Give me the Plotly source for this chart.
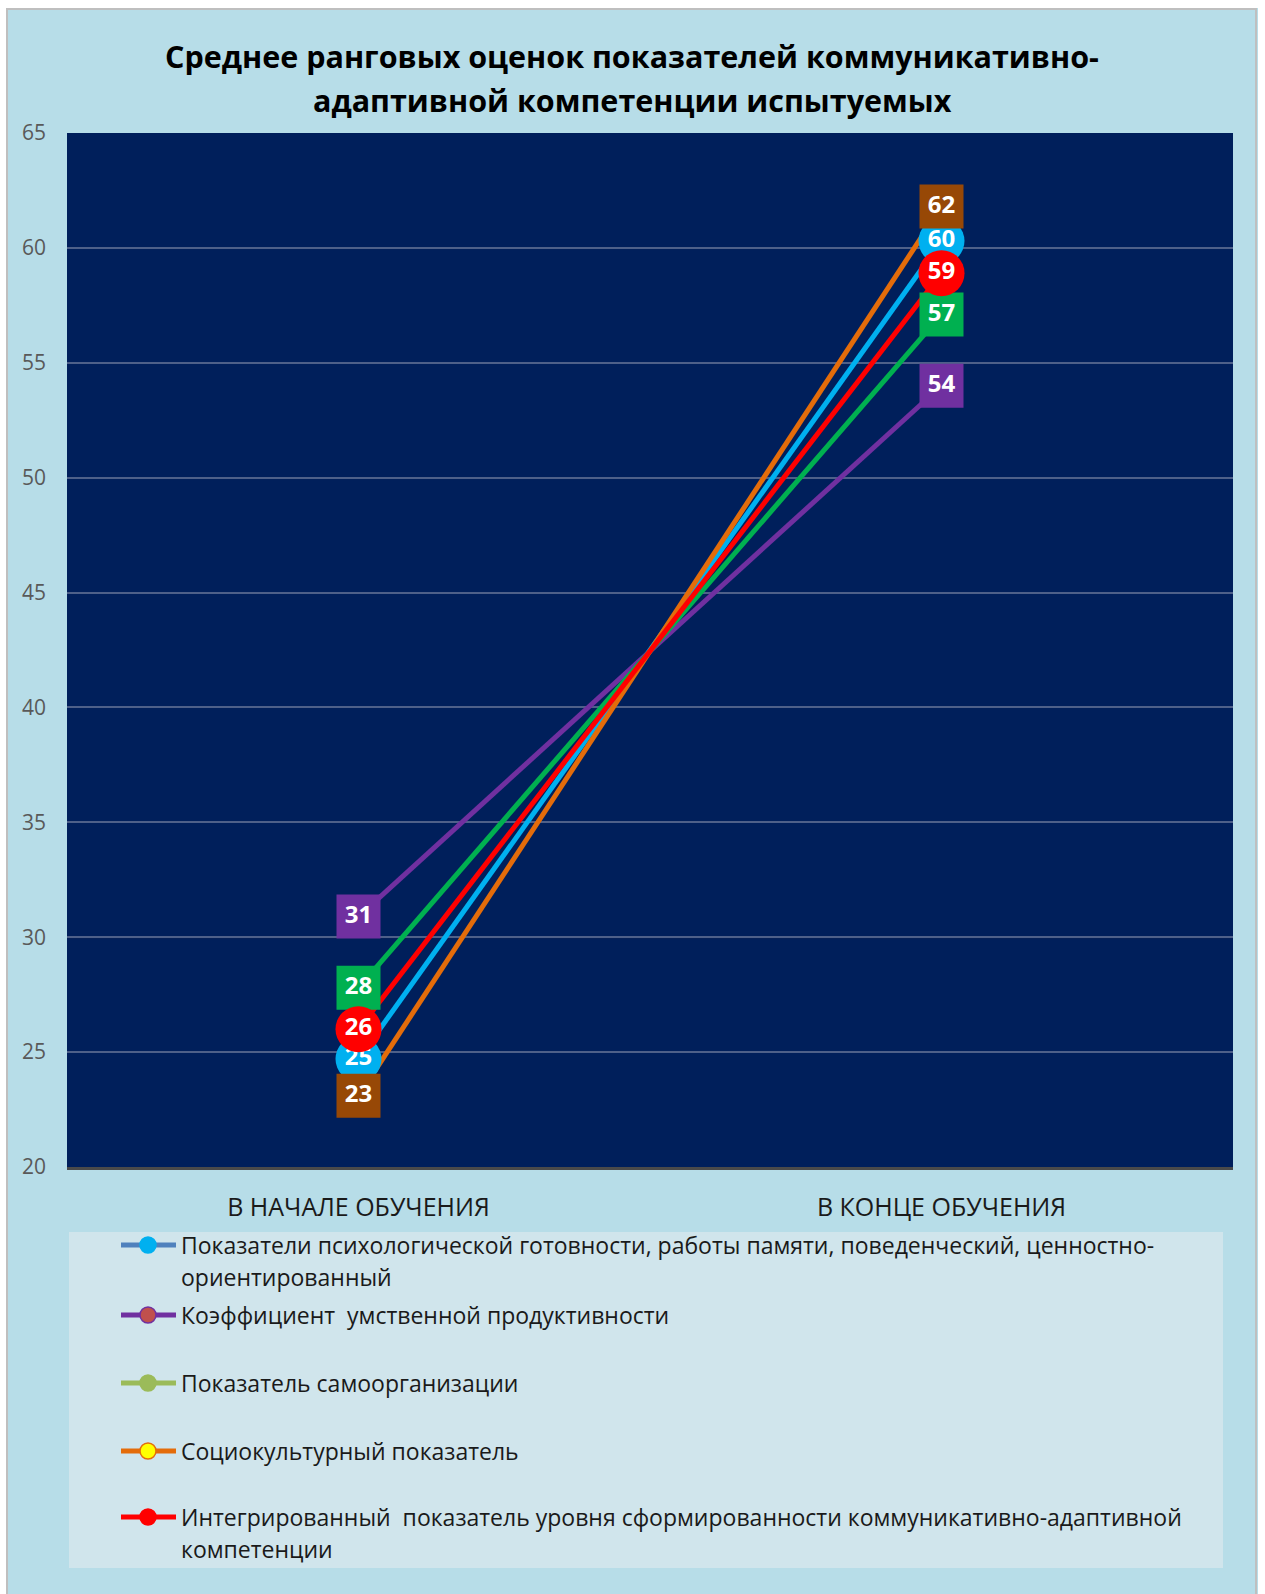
import plotly.graph_objects as go

# --- data -------------------------------------------------------------
categories = ["В НАЧАЛЕ ОБУЧЕНИЯ", "В КОНЦЕ ОБУЧЕНИЯ"]

series_names = [
    "Показатели психологической готовности, работы памяти, поведенческий, ценностно-<br>ориентированный",
    "Коэффициент  умственной продуктивности",
    "Показатель самоорганизации",
    "Социокультурный показатель",
    "Интегрированный  показатель уровня сформированности коммуникативно-адаптивной<br>компетенции",
]

psych_readiness = [24.7, 60.3]
mental_productivity = [30.9, 54.0]
self_organization = [27.8, 57.1]
sociocultural = [23.1, 61.8]
integrated = [26.0, 58.9]

series_values = [psych_readiness, mental_productivity, self_organization,
                 sociocultural, integrated]

y_ticks = [20, 25, 30, 35, 40, 45, 50, 55, 60, 65]

# --- styling ----------------------------------------------------------
line_colors = ["#00B0F0", "#7030A0", "#00B050", "#E46C0A", "#FF0000"]
label_colors = ["#00B0F0", "#7030A0", "#00B050", "#974806", "#FF0000"]
label_symbols = ["circle", "square", "square", "square", "circle"]

legend_line_colors = ["#4F81BD", "#7030A0", "#9BBB59", "#E46C0A", "#FF0000"]
legend_marker_colors = ["#00B0F0", "#C0504D", "#9BBB59", "#FFFF00", "#FF0000"]
legend_marker_borders = ["#00B0F0", "#7030A0", "#9BBB59", "#E46C0A", "#FF0000"]

FIG_W, FIG_H = 1265, 1594
L, R, T, B = 67, 32, 133, 427
PW = FIG_W - L - R
PH = FIG_H - T - B


def px_x(px):
    return (px - L) / PW


def px_y(py):
    return (T + PH - py) / PH


fig = go.Figure()

# connecting lines first, so every value label sits above all lines
for vals, col in zip(series_values, line_colors):
    fig.add_trace(go.Scatter(
        x=categories, y=vals, mode="lines",
        line=dict(color=col, width=5),
        showlegend=False, hoverinfo="skip",
    ))

# value labels drawn as filled markers with text
for name, vals, col, sym in zip(series_names, series_values, label_colors, label_symbols):
    fig.add_trace(go.Scatter(
        x=categories, y=vals, mode="markers+text", name=name,
        marker=dict(symbol=sym, color=col, size=46 if sym == "circle" else 44,
                    line=dict(width=0)),
        texttemplate="<b>%{y:.0f}</b>", textposition="middle center",
        textfont=dict(family="Open Sans", size=24, color="white"),
        showlegend=False,
    ))

shapes = []
annotations = []

# white margin and grey frame around the chart area
shapes += [
    dict(type="rect", xref="paper", yref="paper", x0=px_x(0), x1=px_x(FIG_W),
         y0=px_y(8), y1=px_y(0), fillcolor="white", line=dict(width=0)),
    dict(type="rect", xref="paper", yref="paper", x0=px_x(0), x1=px_x(6),
         y0=px_y(FIG_H), y1=px_y(0), fillcolor="white", line=dict(width=0)),
    dict(type="rect", xref="paper", yref="paper", x0=px_x(1258), x1=px_x(FIG_W),
         y0=px_y(FIG_H), y1=px_y(0), fillcolor="white", line=dict(width=0)),
    dict(type="line", xref="paper", yref="paper", x0=px_x(7), x1=px_x(7),
         y0=px_y(FIG_H), y1=px_y(8), line=dict(color="#BFBFBF", width=2)),
    dict(type="line", xref="paper", yref="paper", x0=px_x(1256), x1=px_x(1256),
         y0=px_y(FIG_H), y1=px_y(8), line=dict(color="#BFBFBF", width=2)),
    dict(type="line", xref="paper", yref="paper", x0=px_x(6), x1=px_x(1257),
         y0=px_y(9), y1=px_y(9), line=dict(color="#BFBFBF", width=2)),
]

# darker gridlines in the lower part of the plot
for yv, col in [(30, "#14264F"), (25, "#06132E")]:
    shapes.append(dict(type="line", xref="paper", yref="y", x0=0, x1=1, y0=yv, y1=yv,
                       line=dict(color=col, width=2), layer="below"))

# legend panel
shapes.append(dict(type="rect", xref="paper", yref="paper", x0=px_x(69), x1=px_x(1223),
                   y0=px_y(1568), y1=px_y(1232), fillcolor="#D0E5EC", line=dict(width=0)))

legend_rows = [1245, 1315, 1383, 1451, 1517]
for name, lc, mc, mb, yr in zip(series_names, legend_line_colors, legend_marker_colors,
                                legend_marker_borders, legend_rows):
    shapes.append(dict(type="line", xref="paper", yref="paper",
                       x0=px_x(121), x1=px_x(176), y0=px_y(yr), y1=px_y(yr),
                       line=dict(color=lc, width=5)))
    shapes.append(dict(type="circle", xref="paper", yref="paper",
                       x0=px_x(140), x1=px_x(156), y0=px_y(yr + 8), y1=px_y(yr - 8),
                       fillcolor=mc, line=dict(color=mb, width=1.5)))
    for i, part in enumerate(name.split("<br>")):
        annotations.append(dict(
            text=part, xref="paper", yref="paper", x=px_x(179), y=px_y(yr + i * 32),
            xanchor="left", yanchor="middle", showarrow=False,
            font=dict(family="Open Sans", size=23, color="#1A1A1A"),
        ))

# chart title
title_lines = ["Среднее ранговых оценок показателей коммуникативно-",
               "адаптивной компетенции испытуемых"]
for i, line in enumerate(title_lines):
    annotations.append(dict(
        text="<b>" + line + "</b>", xref="paper", yref="paper",
        x=px_x(632), y=px_y(56 + i * 44), xanchor="center", yanchor="middle",
        showarrow=False, font=dict(family="Open Sans", size=30.5, color="black"),
    ))

fig.update_layout(
    width=FIG_W, height=FIG_H,
    margin=dict(l=L, r=R, t=T, b=B, pad=0),
    paper_bgcolor="#B7DDE8",
    plot_bgcolor="#001F5B",
    shapes=shapes,
    annotations=annotations,
    showlegend=False,
)

fig.update_xaxes(
    type="category", range=[-0.5, 1.5],
    showgrid=False, zeroline=False,
    showline=True, linecolor="#4A4A4A", linewidth=3,
    ticks="", ticklabelstandoff=16,
    tickfont=dict(family="Open Sans", size=25, color="#1A1A1A"),
)

fig.update_yaxes(
    range=[20, 65], tickvals=y_ticks,
    showgrid=True, gridcolor="#4E6089", gridwidth=2,
    zeroline=False, showline=False,
    ticks="", ticklabelstandoff=20,
    tickfont=dict(family="Open Sans", size=21, color="#595959"),
)

fig.write_html("out.html")
